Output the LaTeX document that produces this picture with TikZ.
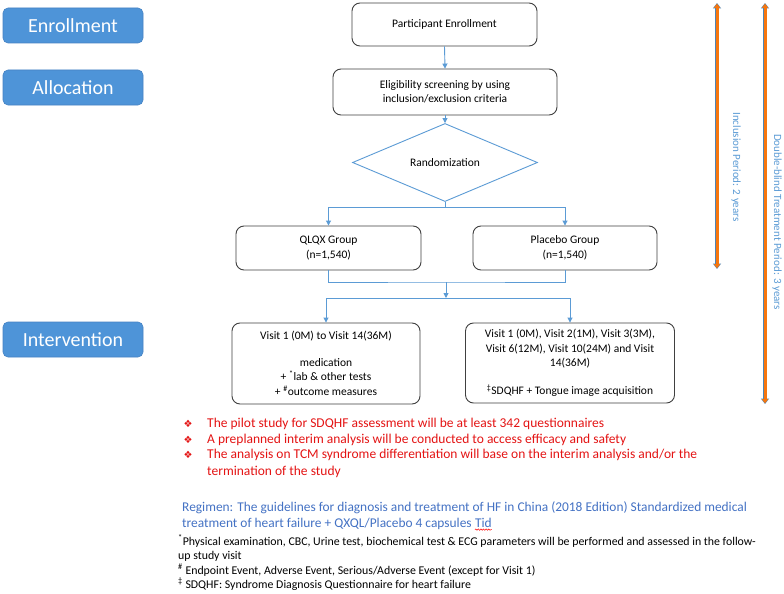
\documentclass[tikz,border=0pt]{standalone}
\usepackage{fontspec}
\setmainfont{Carlito}
\newfontfamily\symfont{DejaVu Sans}
\usetikzlibrary{arrows.meta,shapes.geometric,decorations.pathmorphing}
\definecolor{labblue}{RGB}{78,148,216}
\definecolor{labedge}{RGB}{70,130,195}
\definecolor{conblue}{RGB}{91,155,213}
\definecolor{boxedge}{RGB}{64,64,64}
\definecolor{redtxt}{RGB}{228,20,20}
\definecolor{regblue}{RGB}{68,114,196}
\definecolor{orng}{RGB}{246,118,14}
\tikzset{
  phase/.style={draw=labedge, line width=0.6pt, fill=labblue, rounded corners=5pt,
    minimum width=140pt, minimum height=35pt, inner sep=0pt, text=white,
    font=\fontsize{20}{24}\selectfont},
  flowbox/.style={draw=boxedge, line width=0.9pt, rounded corners=8pt, fill=white,
    align=center, inner sep=0pt, font=\fontsize{11.5}{14.5}\selectfont},
  conn/.style={draw=conblue, line width=0.9pt},
  arr/.style={conn, -{Triangle[width=5pt,length=5pt]}},
  redline/.style={anchor=base west, inner sep=0pt, text=redtxt, font=\fontsize{13.5}{16}\selectfont},
  bul/.style={anchor=base, inner sep=0pt, text=redtxt, font=\symfont\fontsize{10}{12}\selectfont},
  regline/.style={anchor=base west, inner sep=0pt, text=regblue, font=\fontsize{13.4}{16}\selectfont},
  noteline/.style={anchor=base west, inner sep=0pt, text=black, font=\fontsize{11.85}{14}\selectfont},
  vlabel/.style={rotate=-90, inner sep=0pt, text=conblue, font=\fontsize{11}{13}\selectfont},
  orngline/.style={line width=3pt, draw=orng, {Triangle[width=6pt,length=4pt]}-{Triangle[width=6pt,length=4pt]}},
  orngedge/.style={line width=4.6pt, draw=conblue!85!black, {Triangle[width=8pt,length=5.5pt]}-{Triangle[width=8pt,length=5.5pt]}}
}
\begin{document}
\begin{tikzpicture}[x=1pt,y=-1pt]
\useasboundingbox[fill=white] (0,0) rectangle (784,594);

% phase labels
\node[phase] (ph1) at (73,25.5) {Enrollment};
\node[phase] (ph2) at (73,87.5) {Allocation};
\node[phase] (ph3) at (73,339.5) {Intervention};

% flow
\node[flowbox, minimum width=185pt, minimum height=43pt] (enr) at (444.5,24.5) {Participant Enrollment};
\node[flowbox, minimum width=224pt, minimum height=46pt] (elig) at (445,92) {Eligibility screening by using\\inclusion/exclusion criteria};
\node[diamond, draw=conblue, line width=0.9pt, minimum width=185pt, minimum height=49pt, inner sep=0pt,
      font=\fontsize{11.5}{14.5}\selectfont] (rand) at (445,162.5) {Randomization};
\node[flowbox, minimum width=185pt, minimum height=44pt] (qlqx) at (328.5,248) {QLQX Group\\(n=1,540)};
\node[flowbox, minimum width=184pt, minimum height=44pt] (plac) at (565,248) {Placebo Group\\(n=1,540)};
\node[flowbox, minimum width=188pt, minimum height=81pt] (intL) at (326,363.5)
  {Visit 1 (0M) to Visit 14(36M)\\[12pt] medication\\ + \textsuperscript{*}lab \& other tests\\ + \textsuperscript{\#}outcome measures};
\node[flowbox, minimum width=209pt, minimum height=80pt] (intR) at (570,363)
  {Visit 1 (0M), Visit 2(1M), Visit 3(3M),\\ Visit 6(12M), Visit 10(24M) and Visit\\ 14(36M)\\[13pt] \textsuperscript{‡}SDQHF + Tongue image acquisition};

\coordinate (s1) at (445,207);
\coordinate (m1) at (446,282);
\coordinate (s2) at (446,298);

\draw[arr] (enr.south) -- (elig.north);
\draw[arr] (elig.south) -- (rand.north);
\draw[conn] (rand.south) -- (s1);
\draw[arr] (s1) -| (qlqx.north);
\draw[arr] (s1) -| (plac.north);
\draw[conn] (qlqx.south) |- (m1) -| (plac.south);
\draw[arr] (m1) -- (s2);
\draw[arr] (s2) -| (intL.north);
\draw[arr] (s2) -| (intR.north);

% period arrows
\coordinate (i1) at (717,3);
\coordinate (i2) at (717,269);
\coordinate (d1) at (765,3);
\coordinate (d2) at (765,404);
\draw[orngedge] (i1) -- (i2);
\draw[orngline] ([yshift=-0.8pt]i1) -- ([yshift=0.8pt]i2);
\draw[orngedge] (d1) -- (d2);
\draw[orngline] ([yshift=-0.8pt]d1) -- ([yshift=0.8pt]d2);
\node[vlabel] (il) at (736,167) {Inclusion Period: 2 years};
\node[vlabel] (dl) at (777,222) {Double-blind Treatment Period: 3 years};

% red notes
\node[bul] (b1) at (188,427) {❖};
\node[bul] (b2) at (188,443) {❖};
\node[bul] (b3) at (188,458) {❖};
\node[redline] (r1) at (207,427) {The pilot study for SDQHF assessment will be at least 342 questionnaires};
\node[redline] (r2) at (207,443) {A preplanned interim analysis will be conducted to access efficacy and safety};
\node[redline] (r3) at (207,458) {The analysis on TCM syndrome differentiation will base on the interim analysis and/or the};
\node[redline] (r4) at (207,475) {termination of the study};

% regimen
\node[regline] (g1) at (182,511) {Regimen: The guidelines for diagnosis and treatment of HF in China (2018 Edition) Standardized medical};
\node[regline] (g2) at (182,527) {treatment of heart failure + QXQL/Placebo 4 capsules};
\node[regline] (tid) at ([xshift=3.03pt]g2.base east) {Tid};
\draw[red, line width=0.5pt, decorate, decoration={snake, amplitude=0.7pt, segment length=2.6pt}]
  ([yshift=-2.6pt]tid.base west) -- ([yshift=-2.6pt]tid.base east);

% footnotes
\node[noteline] (n1) at (178,545) {\textsuperscript{*}Physical examination, CBC, Urine test, biochemical test \& ECG parameters will be performed and assessed in the follow-};
\node[noteline] (n2) at (178,559) {up study visit};
\node[noteline] (n3) at (178,574) {\textsuperscript{\#} Endpoint Event, Adverse Event, Serious/Adverse Event (except for Visit 1)};
\node[noteline] (n4) at (178,588) {\textsuperscript{‡} SDQHF: Syndrome Diagnosis Questionnaire for heart failure};
\end{tikzpicture}
\end{document}
